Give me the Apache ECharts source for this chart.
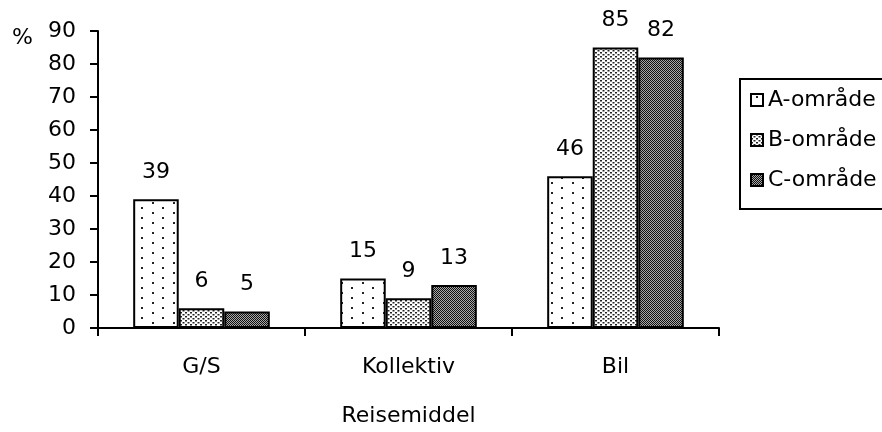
<!DOCTYPE html>
<html>
<head>
<meta charset="utf-8">
<script src="https://cdn.jsdelivr.net/npm/echarts@6/dist/echarts.min.js"></script>
<style>html,body{margin:0;padding:0;background:#fff;}#c{width:882px;height:432px;}</style>
</head>
<body>
<div id="c"></div>
<script>
const categories = ['G/S', 'Kollektiv', 'Bil'];
const seriesNames = ['A-område', 'B-område', 'C-område'];
const valuesA = [39, 15, 46];
const valuesB = [6, 9, 85];
const valuesC = [5, 13, 82];
const yTicks = [0, 10, 20, 30, 40, 50, 60, 70, 80, 90];

function makePattern(kind) {
  const cv = document.createElement('canvas');
  const ctx = cv.getContext('2d');
  if (kind === 'A') {
    cv.width = 21; cv.height = 10;
    ctx.fillStyle = '#fff'; ctx.fillRect(0, 0, 21, 10);
    ctx.fillStyle = '#222';
    ctx.fillRect(5, 2, 2, 2);
    ctx.fillRect(15, 7, 2, 2);
  } else if (kind === 'B') {
    cv.width = 5; cv.height = 4;
    ctx.fillStyle = '#fff'; ctx.fillRect(0, 0, 5, 4);
    ctx.fillStyle = '#222';
    ctx.fillRect(0, 0, 2, 1.5);
    ctx.fillRect(2.5, 2, 2, 1.5);
  } else {
    cv.width = 2; cv.height = 2;
    ctx.fillStyle = '#a8a8a8'; ctx.fillRect(0, 0, 2, 2);
    ctx.fillStyle = '#111';
    ctx.fillRect(0, 0, 1, 1);
    ctx.fillRect(1, 1, 1, 1);
  }
  return { image: cv, repeat: 'repeat' };
}

const font = 'DejaVu Sans';
const fs = 22;
const seriesValues = [valuesA, valuesB, valuesC];
const patterns = ['A', 'B', 'C'];

const chart = echarts.init(document.getElementById('c'), null, { renderer: 'canvas' });
chart.setOption({
  animation: false,
  backgroundColor: '#fff',
  grid: { left: 98, right: 163, top: 31, bottom: 101, containLabel: false },
  legend: {
    orient: 'vertical',
    left: 740, top: 79,
    padding: [10, 80, 18, 10],
    borderColor: '#000', borderWidth: 2,
    itemWidth: 12, itemHeight: 12, itemGap: 18,
    icon: 'rect',
    textStyle: { fontFamily: font, fontSize: fs, color: '#000', lineHeight: 22, padding: [0, 0, 0, 0] },
    data: seriesNames
  },
  graphic: [{
    type: 'text', left: 12, top: 27,
    style: { text: '%', font: fs + 'px "DejaVu Sans"', fill: '#000' }
  }],
  xAxis: {
    type: 'category',
    data: categories,
    name: 'Reisemiddel',
    nameLocation: 'middle',
    nameGap: 77,
    nameTextStyle: { fontFamily: font, fontSize: fs, color: '#000' },
    axisLine: { lineStyle: { color: '#000', width: 2 } },
    axisTick: { show: true, length: 8, lineStyle: { color: '#000', width: 2 } },
    axisLabel: { fontFamily: font, fontSize: fs, color: '#000', margin: 28 },
    splitLine: { show: false }
  },
  yAxis: {
    type: 'value',
    min: yTicks[0], max: yTicks[yTicks.length - 1], interval: yTicks[1] - yTicks[0],
    axisLine: { show: true, lineStyle: { color: '#000', width: 2 } },
    axisTick: { show: true, length: 8, lineStyle: { color: '#000', width: 2 } },
    axisLabel: { fontFamily: font, fontSize: fs, color: '#000', margin: 22 },
    splitLine: { show: false }
  },
  series: seriesNames.map((n, i) => ({
    name: n,
    type: 'bar',
    data: seriesValues[i],
    barGap: '0%',
    barCategoryGap: '34%',
    itemStyle: { color: makePattern(patterns[i]), borderColor: '#000', borderWidth: 2 },
    label: { show: true, position: 'top', distance: 16, fontFamily: font, fontSize: fs, color: '#000' }
  }))
});
</script>
</body>
</html>
